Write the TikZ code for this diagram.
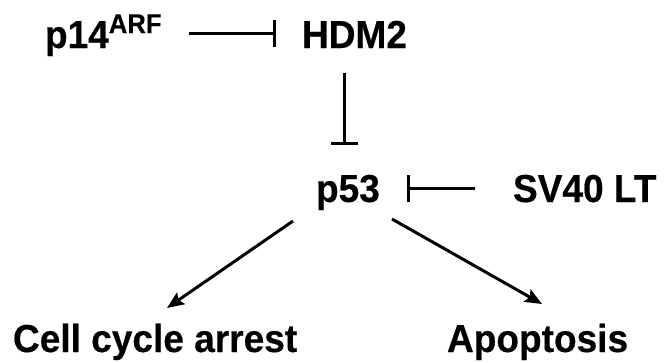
\documentclass[tikz,border=0pt]{standalone}
\usepackage{fontspec}
\setmainfont{Liberation Sans}[FakeStretch=0.95,BoldFeatures={FakeBold=0.4}]
\usetikzlibrary{arrows.meta}
\begin{document}
\begin{tikzpicture}[x=1pt,y=-1pt,
  lbl/.style={inner sep=0pt, outer sep=0pt, anchor=base west, font=\fontsize{39}{42}\selectfont\bfseries},
  inhib/.style={line width=3pt, -{Bar[width=27pt,line width=3pt]}},
  act/.style={line width=3pt, -{Stealth[length=17pt,width=14pt,inset=3pt]}}]
\useasboundingbox (0,0) rectangle (668,362);
\node[lbl] (p14) at (45,48) {p14\raisebox{15pt}{\fontsize{27}{27}\selectfont\bfseries ARF}};
\node[lbl] (hdm2) at (302,48) {HDM2};
\node[lbl] (p53) at (316,202) {p53};
\node[lbl] (sv40) at (513,202) {SV40 LT};
\node[lbl] (cca) at (13,352) {Cell cycle arrest};
\node[lbl] (apo) at (447,352) {Apoptosis};
\draw[inhib, shorten <=27pt, shorten >=26pt]
  ([yshift=15pt]p14.base east) -- ([yshift=15pt]p14.base east -| hdm2.west);
\draw[inhib, shorten <=25pt, shorten >=30pt]
  ([xshift=42pt]hdm2.base west) -- ([xshift=42pt]hdm2.base west |- p53.north);
\draw[inhib, shorten <=38pt, shorten >=27pt]
  ([yshift=14pt]sv40.base west) -- ([yshift=14pt]sv40.base west -| p53.east);
\draw[act] ([shift={(-23pt,-19pt)}]p53.base west) -- ([shift={(154pt,44pt)}]cca.base west);
\draw[act] ([shift={(76pt,-17pt)}]p53.base west) -- ([shift={(95pt,48pt)}]apo.base west);
\end{tikzpicture}
\end{document}
